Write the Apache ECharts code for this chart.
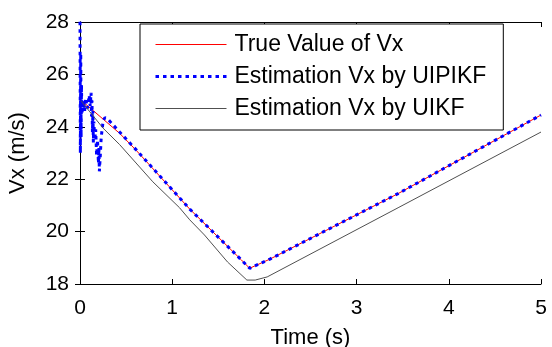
<!DOCTYPE html>
<html>
<head>
<meta charset="utf-8">
<script src="https://cdn.jsdelivr.net/npm/echarts@6/dist/echarts.min.js"></script>
<style>
  html, body { margin: 0; padding: 0; background: #fff; }
</style>
</head>
<body>
<div id="main" style="width: 552px;height:347px;"></div>
<script type="text/javascript">
    // data: [time (s), Vx (m/s)]
    var trueVx = [
        [0, 25.05], [0.43, 23.75], [0.61, 23.1], [1.19, 20.86], [1.75, 18.92],
        [1.84, 18.6], [2.06, 18.95], [3.45, 21.45], [5, 24.45]
    ];
    var uipikfVx = [
        [0, 28.3], [0.004, 23.0], [0.008, 26.8], [0.012, 23.6], [0.016, 25.6],
        [0.02, 24.5], [0.04, 25.0], [0.05, 24.6], [0.06, 25.1], [0.08, 24.7],
        [0.1, 25.2], [0.11, 24.8], [0.12, 25.3], [0.125, 24.4], [0.13, 25.0],
        [0.135, 23.8], [0.14, 24.6], [0.145, 23.4], [0.15, 24.2], [0.16, 23.5],
        [0.17, 23.9], [0.18, 22.9], [0.19, 23.5], [0.2, 22.6], [0.205, 23.2],
        [0.21, 22.3], [0.22, 22.9], [0.23, 23.6], [0.24, 23.9], [0.25, 24.2],
        [0.27, 24.35], [0.3, 24.3], [0.43, 23.8], [0.61, 23.12], [1.19, 20.86],
        [1.75, 18.92], [1.84, 18.6], [2.06, 18.95], [3.45, 21.45], [5, 24.45]
    ];
    var uikfVx = [
        [0.01, 25.0], [0.1, 24.6], [0.25, 23.95], [0.43, 23.32], [0.79, 21.9],
        [1.08, 20.91], [1.19, 20.45], [1.35, 19.87], [1.6, 18.84], [1.81, 18.15],
        [1.9, 18.15], [2.03, 18.27], [3.45, 20.91], [5, 23.8]
    ];
    var seriesNames = ['True Value of Vx', 'Estimation Vx by UIPIKF', 'Estimation Vx by UIKF'];

    var myChart = echarts.init(document.getElementById('main'));
    var font = 'Liberation Sans, Arial, sans-serif';

    var option = {
        animation: false,
        backgroundColor: '#fff',
        textStyle: { fontFamily: font, color: '#000' },
        grid: { left: 80, right: 11, top: 22, bottom: 63, outerBoundsMode: 'none' },
        legend: {
            orient: 'vertical',
            left: 140,
            top: 24,
            padding: [9, 17, 10, 14],
            itemGap: 9,
            itemWidth: 71,
            itemHeight: 14,
            backgroundColor: '#fff',
            borderColor: '#000',
            borderWidth: 1,
            // hide the dot that line legends get, keep the line
            itemStyle: { opacity: 0 },
            textStyle: { fontFamily: font, fontSize: 23, color: '#000', padding: [0, 0, 0, 3] },
            data: [
                { name: seriesNames[0], lineStyle: { width: 1 } },
                { name: seriesNames[1], lineStyle: { width: 3 } },
                { name: seriesNames[2], lineStyle: { width: 1 } }
            ]
        },
        xAxis: [{
            type: 'value', min: 0, max: 5, interval: 1,
            name: 'Time (s)', nameLocation: 'middle', nameGap: 43,
            nameTextStyle: { fontFamily: font, fontSize: 22, color: '#000' },
            axisLine: { lineStyle: { color: '#000', width: 1 } },
            axisTick: { inside: true, length: 5, lineStyle: { color: '#000' } },
            axisLabel: { fontFamily: font, fontSize: 21, color: '#000', margin: 14 },
            splitLine: { show: false }
        }, {
            type: 'value', min: 0, max: 5, interval: 1, position: 'top',
            axisLine: { lineStyle: { color: '#000', width: 1 } },
            axisTick: { inside: true, length: 5, lineStyle: { color: '#000' } },
            axisLabel: { show: false },
            splitLine: { show: false }
        }],
        yAxis: [{
            type: 'value', min: 18, max: 28, interval: 2,
            name: 'Vx (m/s)', nameLocation: 'middle', nameGap: 51, nameRotate: 90,
            nameTextStyle: { fontFamily: font, fontSize: 22, color: '#000' },
            axisLine: { lineStyle: { color: '#000', width: 1 } },
            axisTick: { inside: true, length: 5, lineStyle: { color: '#000' } },
            axisLabel: { fontFamily: font, fontSize: 21, color: '#000', margin: 11 },
            splitLine: { show: false }
        }, {
            type: 'value', min: 18, max: 28, interval: 2, position: 'right',
            axisLine: { lineStyle: { color: '#000', width: 1 } },
            axisTick: { inside: true, length: 5, lineStyle: { color: '#000' } },
            axisLabel: { show: false },
            splitLine: { show: false }
        }],
        series: [{
            name: seriesNames[0],
            type: 'line',
            symbol: 'none',
            color: '#ff0000',
            lineStyle: { color: '#ff0000', width: 1 },
            data: trueVx,
            z: 2
        }, {
            name: seriesNames[1],
            type: 'line',
            symbol: 'none',
            color: '#0000ff',
            lineStyle: { color: '#0000ff', width: 3, type: [3.5, 4], cap: 'butt' },
            data: uipikfVx,
            z: 3
        }, {
            name: seriesNames[2],
            type: 'line',
            symbol: 'none',
            color: '#505050',
            lineStyle: { color: '#505050', width: 1 },
            data: uikfVx,
            z: 4
        }]
    };

    myChart.setOption(option);
</script>
</body>
</html>
